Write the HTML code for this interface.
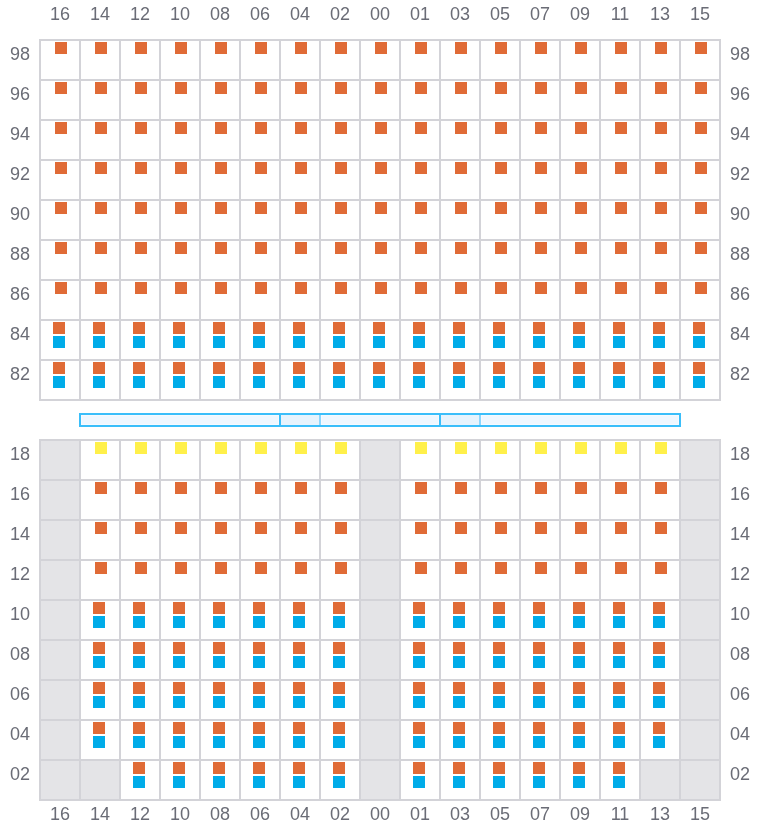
<!DOCTYPE html>
<html><head><meta charset="utf-8"><style>
*{margin:0;padding:0;box-sizing:border-box}
html,body{width:760px;height:840px;background:#fff;overflow:hidden}
body{position:relative;font-family:"Liberation Sans",sans-serif;font-size:18px;color:#6a6c76}
.grid{position:absolute;left:39px;width:682px;height:362px;border:1px solid #d3d3d8;display:grid;grid-template-columns:repeat(17,40px);grid-auto-rows:40px}
.c{position:relative;border:1px solid #d3d3d8;background:#fff}
.c.g{background:#e4e4e7}
.s,.d{position:absolute;width:12px;height:12px;display:block}
.s{left:14px;top:1px}
.d{left:12px;top:1px}
.d.b{top:15px}
.o{background:#e06b36;}
.b{background:#00ace9}
.y{background:#fff04a;}
.cl{position:absolute;left:40px;display:flex;height:28px;line-height:28px}
.cl span{width:40px;text-align:center}
.rl{position:absolute;width:40px;display:flex;flex-direction:column}
.rl span{height:40px;line-height:28px;text-align:center}
.bar{position:absolute;left:79px;top:413px;width:602px;height:14px;border:2px solid #3abefa;background:#fff}
.seg{position:absolute;top:0;height:10px;background:#eff7ff;border:1px solid #f6faff}
.seg.k{background:#e6f3fd;border:0}
.dv{position:absolute;top:-2px;width:2px;height:14px;background:#3abefa}
.dv.l{background:#8dd6fd;top:0;height:10px}
</style></head><body>
<div class="cl" style="top:0px"><span>16</span><span>14</span><span>12</span><span>10</span><span>08</span><span>06</span><span>04</span><span>02</span><span>00</span><span>01</span><span>03</span><span>05</span><span>07</span><span>09</span><span>11</span><span>13</span><span>15</span></div>
<div class="rl" style="left:0px;top:40px"><span>98</span><span>96</span><span>94</span><span>92</span><span>90</span><span>88</span><span>86</span><span>84</span><span>82</span></div>
<div class="rl" style="left:720px;top:40px"><span>98</span><span>96</span><span>94</span><span>92</span><span>90</span><span>88</span><span>86</span><span>84</span><span>82</span></div>
<div class="grid" style="top:39px"><div class="c"><i class="s o"></i></div><div class="c"><i class="s o"></i></div><div class="c"><i class="s o"></i></div><div class="c"><i class="s o"></i></div><div class="c"><i class="s o"></i></div><div class="c"><i class="s o"></i></div><div class="c"><i class="s o"></i></div><div class="c"><i class="s o"></i></div><div class="c"><i class="s o"></i></div><div class="c"><i class="s o"></i></div><div class="c"><i class="s o"></i></div><div class="c"><i class="s o"></i></div><div class="c"><i class="s o"></i></div><div class="c"><i class="s o"></i></div><div class="c"><i class="s o"></i></div><div class="c"><i class="s o"></i></div><div class="c"><i class="s o"></i></div><div class="c"><i class="s o"></i></div><div class="c"><i class="s o"></i></div><div class="c"><i class="s o"></i></div><div class="c"><i class="s o"></i></div><div class="c"><i class="s o"></i></div><div class="c"><i class="s o"></i></div><div class="c"><i class="s o"></i></div><div class="c"><i class="s o"></i></div><div class="c"><i class="s o"></i></div><div class="c"><i class="s o"></i></div><div class="c"><i class="s o"></i></div><div class="c"><i class="s o"></i></div><div class="c"><i class="s o"></i></div><div class="c"><i class="s o"></i></div><div class="c"><i class="s o"></i></div><div class="c"><i class="s o"></i></div><div class="c"><i class="s o"></i></div><div class="c"><i class="s o"></i></div><div class="c"><i class="s o"></i></div><div class="c"><i class="s o"></i></div><div class="c"><i class="s o"></i></div><div class="c"><i class="s o"></i></div><div class="c"><i class="s o"></i></div><div class="c"><i class="s o"></i></div><div class="c"><i class="s o"></i></div><div class="c"><i class="s o"></i></div><div class="c"><i class="s o"></i></div><div class="c"><i class="s o"></i></div><div class="c"><i class="s o"></i></div><div class="c"><i class="s o"></i></div><div class="c"><i class="s o"></i></div><div class="c"><i class="s o"></i></div><div class="c"><i class="s o"></i></div><div class="c"><i class="s o"></i></div><div class="c"><i class="s o"></i></div><div class="c"><i class="s o"></i></div><div class="c"><i class="s o"></i></div><div class="c"><i class="s o"></i></div><div class="c"><i class="s o"></i></div><div class="c"><i class="s o"></i></div><div class="c"><i class="s o"></i></div><div class="c"><i class="s o"></i></div><div class="c"><i class="s o"></i></div><div class="c"><i class="s o"></i></div><div class="c"><i class="s o"></i></div><div class="c"><i class="s o"></i></div><div class="c"><i class="s o"></i></div><div class="c"><i class="s o"></i></div><div class="c"><i class="s o"></i></div><div class="c"><i class="s o"></i></div><div class="c"><i class="s o"></i></div><div class="c"><i class="s o"></i></div><div class="c"><i class="s o"></i></div><div class="c"><i class="s o"></i></div><div class="c"><i class="s o"></i></div><div class="c"><i class="s o"></i></div><div class="c"><i class="s o"></i></div><div class="c"><i class="s o"></i></div><div class="c"><i class="s o"></i></div><div class="c"><i class="s o"></i></div><div class="c"><i class="s o"></i></div><div class="c"><i class="s o"></i></div><div class="c"><i class="s o"></i></div><div class="c"><i class="s o"></i></div><div class="c"><i class="s o"></i></div><div class="c"><i class="s o"></i></div><div class="c"><i class="s o"></i></div><div class="c"><i class="s o"></i></div><div class="c"><i class="s o"></i></div><div class="c"><i class="s o"></i></div><div class="c"><i class="s o"></i></div><div class="c"><i class="s o"></i></div><div class="c"><i class="s o"></i></div><div class="c"><i class="s o"></i></div><div class="c"><i class="s o"></i></div><div class="c"><i class="s o"></i></div><div class="c"><i class="s o"></i></div><div class="c"><i class="s o"></i></div><div class="c"><i class="s o"></i></div><div class="c"><i class="s o"></i></div><div class="c"><i class="s o"></i></div><div class="c"><i class="s o"></i></div><div class="c"><i class="s o"></i></div><div class="c"><i class="s o"></i></div><div class="c"><i class="s o"></i></div><div class="c"><i class="s o"></i></div><div class="c"><i class="s o"></i></div><div class="c"><i class="s o"></i></div><div class="c"><i class="s o"></i></div><div class="c"><i class="s o"></i></div><div class="c"><i class="s o"></i></div><div class="c"><i class="s o"></i></div><div class="c"><i class="s o"></i></div><div class="c"><i class="s o"></i></div><div class="c"><i class="s o"></i></div><div class="c"><i class="s o"></i></div><div class="c"><i class="s o"></i></div><div class="c"><i class="s o"></i></div><div class="c"><i class="s o"></i></div><div class="c"><i class="s o"></i></div><div class="c"><i class="s o"></i></div><div class="c"><i class="s o"></i></div><div class="c"><i class="d o"></i><i class="d b"></i></div><div class="c"><i class="d o"></i><i class="d b"></i></div><div class="c"><i class="d o"></i><i class="d b"></i></div><div class="c"><i class="d o"></i><i class="d b"></i></div><div class="c"><i class="d o"></i><i class="d b"></i></div><div class="c"><i class="d o"></i><i class="d b"></i></div><div class="c"><i class="d o"></i><i class="d b"></i></div><div class="c"><i class="d o"></i><i class="d b"></i></div><div class="c"><i class="d o"></i><i class="d b"></i></div><div class="c"><i class="d o"></i><i class="d b"></i></div><div class="c"><i class="d o"></i><i class="d b"></i></div><div class="c"><i class="d o"></i><i class="d b"></i></div><div class="c"><i class="d o"></i><i class="d b"></i></div><div class="c"><i class="d o"></i><i class="d b"></i></div><div class="c"><i class="d o"></i><i class="d b"></i></div><div class="c"><i class="d o"></i><i class="d b"></i></div><div class="c"><i class="d o"></i><i class="d b"></i></div><div class="c"><i class="d o"></i><i class="d b"></i></div><div class="c"><i class="d o"></i><i class="d b"></i></div><div class="c"><i class="d o"></i><i class="d b"></i></div><div class="c"><i class="d o"></i><i class="d b"></i></div><div class="c"><i class="d o"></i><i class="d b"></i></div><div class="c"><i class="d o"></i><i class="d b"></i></div><div class="c"><i class="d o"></i><i class="d b"></i></div><div class="c"><i class="d o"></i><i class="d b"></i></div><div class="c"><i class="d o"></i><i class="d b"></i></div><div class="c"><i class="d o"></i><i class="d b"></i></div><div class="c"><i class="d o"></i><i class="d b"></i></div><div class="c"><i class="d o"></i><i class="d b"></i></div><div class="c"><i class="d o"></i><i class="d b"></i></div><div class="c"><i class="d o"></i><i class="d b"></i></div><div class="c"><i class="d o"></i><i class="d b"></i></div><div class="c"><i class="d o"></i><i class="d b"></i></div><div class="c"><i class="d o"></i><i class="d b"></i></div></div>
<div class="bar">
<div class="seg" style="left:0;width:198px"></div>
<div class="dv" style="left:198px"></div>
<div class="seg k" style="left:200px;width:38px"></div>
<div class="dv l" style="left:238px"></div>
<div class="seg" style="left:240px;width:118px"></div>
<div class="dv" style="left:358px"></div>
<div class="seg k" style="left:360px;width:38px"></div>
<div class="dv l" style="left:398px"></div>
<div class="seg" style="left:400px;width:198px"></div>
</div>
<div class="rl" style="left:0px;top:440px"><span>18</span><span>16</span><span>14</span><span>12</span><span>10</span><span>08</span><span>06</span><span>04</span><span>02</span></div>
<div class="rl" style="left:720px;top:440px"><span>18</span><span>16</span><span>14</span><span>12</span><span>10</span><span>08</span><span>06</span><span>04</span><span>02</span></div>
<div class="grid" style="top:439px"><div class="c g"></div><div class="c"><i class="s y"></i></div><div class="c"><i class="s y"></i></div><div class="c"><i class="s y"></i></div><div class="c"><i class="s y"></i></div><div class="c"><i class="s y"></i></div><div class="c"><i class="s y"></i></div><div class="c"><i class="s y"></i></div><div class="c g"></div><div class="c"><i class="s y"></i></div><div class="c"><i class="s y"></i></div><div class="c"><i class="s y"></i></div><div class="c"><i class="s y"></i></div><div class="c"><i class="s y"></i></div><div class="c"><i class="s y"></i></div><div class="c"><i class="s y"></i></div><div class="c g"></div><div class="c g"></div><div class="c"><i class="s o"></i></div><div class="c"><i class="s o"></i></div><div class="c"><i class="s o"></i></div><div class="c"><i class="s o"></i></div><div class="c"><i class="s o"></i></div><div class="c"><i class="s o"></i></div><div class="c"><i class="s o"></i></div><div class="c g"></div><div class="c"><i class="s o"></i></div><div class="c"><i class="s o"></i></div><div class="c"><i class="s o"></i></div><div class="c"><i class="s o"></i></div><div class="c"><i class="s o"></i></div><div class="c"><i class="s o"></i></div><div class="c"><i class="s o"></i></div><div class="c g"></div><div class="c g"></div><div class="c"><i class="s o"></i></div><div class="c"><i class="s o"></i></div><div class="c"><i class="s o"></i></div><div class="c"><i class="s o"></i></div><div class="c"><i class="s o"></i></div><div class="c"><i class="s o"></i></div><div class="c"><i class="s o"></i></div><div class="c g"></div><div class="c"><i class="s o"></i></div><div class="c"><i class="s o"></i></div><div class="c"><i class="s o"></i></div><div class="c"><i class="s o"></i></div><div class="c"><i class="s o"></i></div><div class="c"><i class="s o"></i></div><div class="c"><i class="s o"></i></div><div class="c g"></div><div class="c g"></div><div class="c"><i class="s o"></i></div><div class="c"><i class="s o"></i></div><div class="c"><i class="s o"></i></div><div class="c"><i class="s o"></i></div><div class="c"><i class="s o"></i></div><div class="c"><i class="s o"></i></div><div class="c"><i class="s o"></i></div><div class="c g"></div><div class="c"><i class="s o"></i></div><div class="c"><i class="s o"></i></div><div class="c"><i class="s o"></i></div><div class="c"><i class="s o"></i></div><div class="c"><i class="s o"></i></div><div class="c"><i class="s o"></i></div><div class="c"><i class="s o"></i></div><div class="c g"></div><div class="c g"></div><div class="c"><i class="d o"></i><i class="d b"></i></div><div class="c"><i class="d o"></i><i class="d b"></i></div><div class="c"><i class="d o"></i><i class="d b"></i></div><div class="c"><i class="d o"></i><i class="d b"></i></div><div class="c"><i class="d o"></i><i class="d b"></i></div><div class="c"><i class="d o"></i><i class="d b"></i></div><div class="c"><i class="d o"></i><i class="d b"></i></div><div class="c g"></div><div class="c"><i class="d o"></i><i class="d b"></i></div><div class="c"><i class="d o"></i><i class="d b"></i></div><div class="c"><i class="d o"></i><i class="d b"></i></div><div class="c"><i class="d o"></i><i class="d b"></i></div><div class="c"><i class="d o"></i><i class="d b"></i></div><div class="c"><i class="d o"></i><i class="d b"></i></div><div class="c"><i class="d o"></i><i class="d b"></i></div><div class="c g"></div><div class="c g"></div><div class="c"><i class="d o"></i><i class="d b"></i></div><div class="c"><i class="d o"></i><i class="d b"></i></div><div class="c"><i class="d o"></i><i class="d b"></i></div><div class="c"><i class="d o"></i><i class="d b"></i></div><div class="c"><i class="d o"></i><i class="d b"></i></div><div class="c"><i class="d o"></i><i class="d b"></i></div><div class="c"><i class="d o"></i><i class="d b"></i></div><div class="c g"></div><div class="c"><i class="d o"></i><i class="d b"></i></div><div class="c"><i class="d o"></i><i class="d b"></i></div><div class="c"><i class="d o"></i><i class="d b"></i></div><div class="c"><i class="d o"></i><i class="d b"></i></div><div class="c"><i class="d o"></i><i class="d b"></i></div><div class="c"><i class="d o"></i><i class="d b"></i></div><div class="c"><i class="d o"></i><i class="d b"></i></div><div class="c g"></div><div class="c g"></div><div class="c"><i class="d o"></i><i class="d b"></i></div><div class="c"><i class="d o"></i><i class="d b"></i></div><div class="c"><i class="d o"></i><i class="d b"></i></div><div class="c"><i class="d o"></i><i class="d b"></i></div><div class="c"><i class="d o"></i><i class="d b"></i></div><div class="c"><i class="d o"></i><i class="d b"></i></div><div class="c"><i class="d o"></i><i class="d b"></i></div><div class="c g"></div><div class="c"><i class="d o"></i><i class="d b"></i></div><div class="c"><i class="d o"></i><i class="d b"></i></div><div class="c"><i class="d o"></i><i class="d b"></i></div><div class="c"><i class="d o"></i><i class="d b"></i></div><div class="c"><i class="d o"></i><i class="d b"></i></div><div class="c"><i class="d o"></i><i class="d b"></i></div><div class="c"><i class="d o"></i><i class="d b"></i></div><div class="c g"></div><div class="c g"></div><div class="c"><i class="d o"></i><i class="d b"></i></div><div class="c"><i class="d o"></i><i class="d b"></i></div><div class="c"><i class="d o"></i><i class="d b"></i></div><div class="c"><i class="d o"></i><i class="d b"></i></div><div class="c"><i class="d o"></i><i class="d b"></i></div><div class="c"><i class="d o"></i><i class="d b"></i></div><div class="c"><i class="d o"></i><i class="d b"></i></div><div class="c g"></div><div class="c"><i class="d o"></i><i class="d b"></i></div><div class="c"><i class="d o"></i><i class="d b"></i></div><div class="c"><i class="d o"></i><i class="d b"></i></div><div class="c"><i class="d o"></i><i class="d b"></i></div><div class="c"><i class="d o"></i><i class="d b"></i></div><div class="c"><i class="d o"></i><i class="d b"></i></div><div class="c"><i class="d o"></i><i class="d b"></i></div><div class="c g"></div><div class="c g"></div><div class="c g"></div><div class="c"><i class="d o"></i><i class="d b"></i></div><div class="c"><i class="d o"></i><i class="d b"></i></div><div class="c"><i class="d o"></i><i class="d b"></i></div><div class="c"><i class="d o"></i><i class="d b"></i></div><div class="c"><i class="d o"></i><i class="d b"></i></div><div class="c"><i class="d o"></i><i class="d b"></i></div><div class="c g"></div><div class="c"><i class="d o"></i><i class="d b"></i></div><div class="c"><i class="d o"></i><i class="d b"></i></div><div class="c"><i class="d o"></i><i class="d b"></i></div><div class="c"><i class="d o"></i><i class="d b"></i></div><div class="c"><i class="d o"></i><i class="d b"></i></div><div class="c"><i class="d o"></i><i class="d b"></i></div><div class="c g"></div><div class="c g"></div></div>
<div class="cl" style="top:800px"><span>16</span><span>14</span><span>12</span><span>10</span><span>08</span><span>06</span><span>04</span><span>02</span><span>00</span><span>01</span><span>03</span><span>05</span><span>07</span><span>09</span><span>11</span><span>13</span><span>15</span></div>
</body></html>
